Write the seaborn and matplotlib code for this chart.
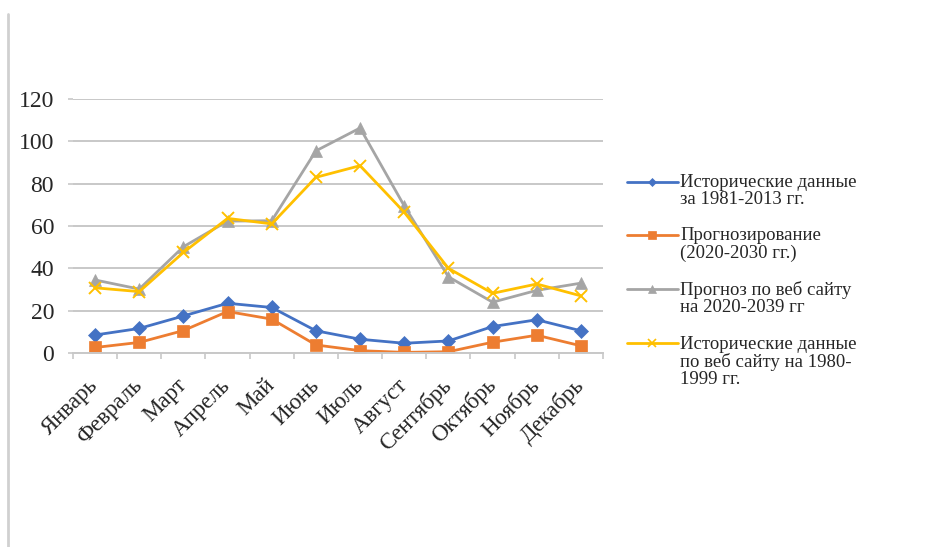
import numpy as np
import pandas as pd
import matplotlib
matplotlib.use("Agg")
import matplotlib.pyplot as plt
from matplotlib.lines import Line2D
from matplotlib.ticker import FixedLocator
from matplotlib.legend_handler import HandlerLine2D
import seaborn as sns

months = ["Январь", "Февраль", "Март", "Апрель", "Май", "Июнь",
          "Июль", "Август", "Сентябрь", "Октябрь", "Ноябрь", "Декабрь"]

hist_1981_2013 = [8.5, 11.6, 17.5, 23.5, 21.5, 10.5, 6.5, 4.6, 5.7, 12.5, 15.7, 10.5]
forecast_2020_2030 = [2.6, 5.0, 10.6, 19.6, 16.0, 3.8, 1.1, 0.3, 0.6, 5.1, 8.4, 3.4]
web_forecast_2020_2039 = [34.5, 30.2, 50.2, 62.3, 62.5, 95.5, 106.3, 69.5, 36.0, 24.0, 29.6, 33.0]
web_hist_1980_1999 = [30.8, 29.0, 47.5, 63.6, 61.0, 83.0, 88.5, 66.5, 40.0, 28.2, 32.6, 27.0]

labels = [
    "Исторические данные\nза 1981-2013 гг.",
    "Прогнозирование\n(2020-2030 гг.)",
    "Прогноз по веб сайту\nна 2020-2039 гг",
    "Исторические данные\nпо веб сайту на 1980-\n1999 гг.",
]
colors = ["#4472C4", "#ED7D31", "#A5A5A5", "#FFC000"]
markers = ["D", "s", "^", "x"]
msizes = [7, 9, 9, 9]

sns.set_theme(style="white")
plt.rcParams["font.family"] = ["Liberation Serif", "DejaVu Serif"]
text_color = "#262626"

fig = plt.figure(figsize=(9.36, 5.47), dpi=100)
ax = fig.add_axes([73 / 936, 1 - 353 / 547, 530 / 936, 254 / 547])

series = [hist_1981_2013, forecast_2020_2030, web_forecast_2020_2039, web_hist_1980_1999]
for vals, lab, col, mk, ms in zip(series, labels, colors, markers, msizes):
    df = pd.DataFrame({"month": months, "value": vals})
    sns.lineplot(data=df, x="month", y="value", ax=ax, color=col, marker=mk,
                 markersize=ms, linewidth=2.0, markeredgecolor=col,
                 markeredgewidth=1.4 if mk == "x" else 0.5, sort=False)

grid_c = "#C8C8C8"
ax.set_ylim(0, 120)
ax.set_xlim(-0.5, 11.5)
ax.set_yticks(np.arange(0, 121, 20))
ax.yaxis.grid(True, color=grid_c, linewidth=1.4)
ax.xaxis.grid(False)
ax.set_axisbelow(True)
for s in ["left", "top", "right"]:
    ax.spines[s].set_visible(False)
ax.spines["bottom"].set_color(grid_c)
ax.spines["bottom"].set_linewidth(1.4)

ax.set_xlabel("")
ax.set_ylabel("")
ax.tick_params(axis="y", direction="out", length=3.6, width=1.2, color=grid_c,
               pad=10, labelsize=17, labelcolor=text_color, left=True)
ax.xaxis.set_minor_locator(FixedLocator(np.arange(-0.5, 12, 1.0)))
ax.tick_params(axis="x", which="minor", direction="out", length=4.3, width=1.2,
               color=grid_c, bottom=True)
ax.tick_params(axis="x", which="major", length=0, pad=21, labelsize=16.5,
               labelcolor=text_color)
plt.setp(ax.get_xticklabels(), rotation=45, ha="right", va="center",
         rotation_mode="anchor")


class FirstRowHandler(HandlerLine2D):
    """Put the legend line on the first text row of a multi-line label."""

    def __init__(self, shift, **kw):
        super().__init__(**kw)
        self.shift = shift

    def create_artists(self, legend, orig_handle, xdescent, ydescent, width,
                       height, fontsize, trans):
        arts = super().create_artists(legend, orig_handle, xdescent, ydescent,
                                      width, height, fontsize, trans)
        for a in arts:
            y = np.asarray(a.get_ydata(), dtype=float)
            a.set_ydata(y + self.shift * fontsize)
        return arts


# legend keys: same styles as the series, with smaller markers
handles = []
hmap = {}
for lab, col, mk in zip(labels, colors, markers):
    h = Line2D([], [], color=col, linewidth=2.0, marker=mk,
               markersize=4.5 if mk == "D" else 5.5, markeredgecolor=col,
               markeredgewidth=1.2 if mk == "x" else 0.5)
    handles.append(h)
    hmap[h] = FirstRowHandler(shift=0.5 * lab.count("\n"), numpoints=1)

leg = fig.legend(handles, labels, handler_map=hmap, loc="upper left",
                 bbox_to_anchor=(627 / 936, 1 - 174 / 547), frameon=False,
                 fontsize=13.5, handlelength=2.7, handletextpad=0.15,
                 labelspacing=1.04, borderpad=0, borderaxespad=0)
for t in leg.get_texts():
    t.set_linespacing(1.0)
    t.set_color(text_color)

fig.add_artist(Line2D([8 / 936, 8 / 936], [0, 1 - 14 / 547],
                      transform=fig.transFigure, color="#D0D0D0", linewidth=2))

fig.savefig("out.png", dpi=100, facecolor="white")
